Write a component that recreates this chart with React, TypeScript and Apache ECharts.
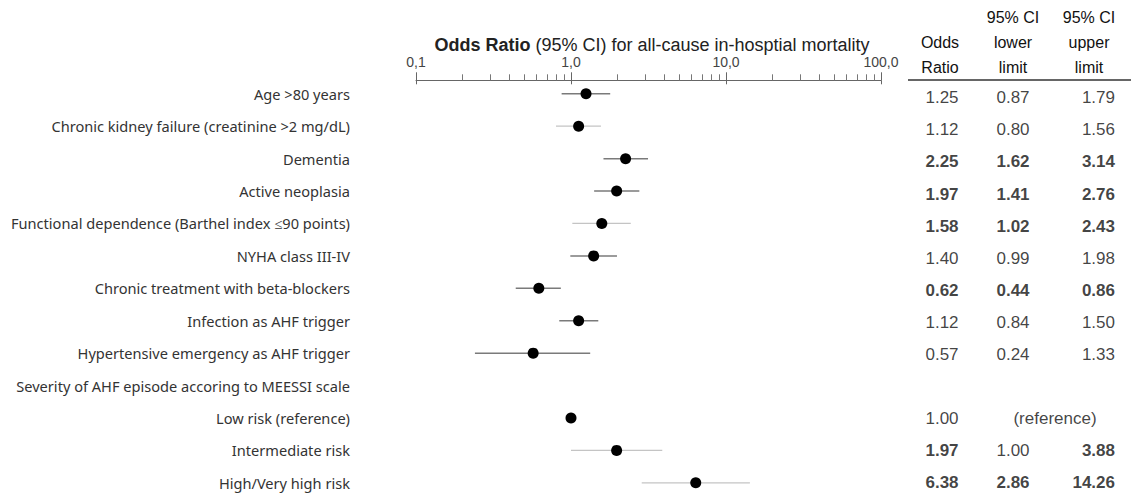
import React, { useEffect, useRef } from "react";
import * as echarts from "echarts";

const labels = [
  "Age >80 years",
  "Chronic kidney failure (creatinine >2 mg/dL)",
  "Dementia",
  "Active neoplasia",
  "Functional dependence (Barthel index ≤90 points)",
  "NYHA class III-IV",
  "Chronic treatment with beta-blockers",
  "Infection as AHF trigger",
  "Hypertensive emergency as AHF trigger",
  "Severity of AHF episode accoring to MEESSI scale",
  "Low risk (reference)",
  "Intermediate risk",
  "High/Very high risk",
];
const oddsRatio: (number | null)[] = [1.25, 1.12, 2.25, 1.97, 1.58, 1.4, 0.62, 1.12, 0.57, null, 1.0, 1.97, 6.38];
const ciLower: (number | null)[] = [0.87, 0.8, 1.62, 1.41, 1.02, 0.99, 0.44, 0.84, 0.24, null, null, 1.0, 2.86];
const ciUpper: (number | null)[] = [1.79, 1.56, 3.14, 2.76, 2.43, 1.98, 0.86, 1.5, 1.33, null, null, 3.88, 14.26];
const significant = [false, false, true, true, true, false, true, false, false, false, false, true, true];
const referenceRow = 10;
const referenceText = "(reference)";

const majorTicks = [0.1, 1, 10, 100];
const majorTickLabels = ["0,1", "1,0", "10,0", "100,0"];
const minorTicks = [
  0.2, 0.3, 0.4, 0.5, 0.6, 0.7, 0.8, 0.9,
  2, 3, 4, 5, 6, 7, 8, 9,
  20, 30, 40, 50, 60, 70, 80, 90,
];

const headerRow1 = ["", "95% CI", "95% CI"];
const headerRow2 = ["Odds", "lower", "upper"];
const headerRow3 = ["Ratio", "limit", "limit"];

// layout constants
const colX = [942, 1013, 1115];
const colAlign = ["center", "center", "right"];
const headerX = [940, 1013, 1089];
const lightRows = [1, 4, 11, 12];
const normalCells: [number, number][] = [[11, 1]];

const tableFont = "Liberation Sans";

function buildTable() {
  const items: any[] = [];
  oddsRatio.forEach((or, i) => {
    if (or == null) return;
    const vals = [or, ciLower[i], ciUpper[i]];
    if (i === referenceRow) {
      items.push({
        value: [colX[0], i],
        label: { formatter: or.toFixed(2), align: "center", fontWeight: "normal" },
      });
      items.push({
        value: [(colX[1] + colX[2]) / 2 - 9, i],
        label: { formatter: referenceText, align: "center", fontWeight: "normal" },
      });
      return;
    }
    vals.forEach((v, c) => {
      if (v == null) return;
      const normal = normalCells.some(([r, cc]) => r === i && cc === c);
      items.push({
        value: [colX[c], i],
        label: {
          formatter: v.toFixed(2),
          align: colAlign[c],
          fontWeight: significant[i] && !normal ? "bold" : "normal",
        },
      });
    });
  });
  return items;
}

export default function App() {
  const ref = useRef<HTMLDivElement>(null);
  useEffect(() => {
    const chart = echarts.init(ref.current!, null, { renderer: "svg" });
    const ciData = oddsRatio
      .map((or, i) => (ciLower[i] != null && ciUpper[i] != null ? [ciLower[i], ciUpper[i], i] : null))
      .filter((d) => d != null);
    const pointData = oddsRatio.map((or, i) => (or == null ? null : [or, i])).filter((d) => d != null);

    const headerGraphics: any[] = [];
    [headerRow1, headerRow2, headerRow3].forEach((row, r) => {
      row.forEach((t, c) => {
        if (!t) return;
        headerGraphics.push({
          type: "text",
          x: headerX[c],
          y: [17, 42, 67][r],
          style: {
            text: t,
            fontFamily: tableFont,
            fontSize: 16,
            fill: "#111",
            textAlign: "center",
            textVerticalAlign: "middle",
          },
        });
      });
    });

    const option: any = {
      animation: false,
      backgroundColor: "#fff",
      grid: [
        { left: 416, right: 250, top: 77.6, bottom: -4.4 },
        { left: 900, right: 0, top: 81.7, bottom: -7.3 },
      ],
      xAxis: [
        {
          type: "log",
          logBase: 10,
          min: 0.1,
          max: 100,
          position: "top",
          offset: -2.7,
          gridIndex: 0,
          axisLine: { show: true, lineStyle: { color: "#666", width: 1 } },
          axisTick: { show: true, length: 8, customValues: majorTicks, lineStyle: { color: "#666" } },
          axisLabel: {
            show: true,
            customValues: majorTicks,
            margin: 11,
            fontFamily: tableFont,
            fontSize: 14,
            color: "#444",
            formatter: (v: number) => {
              const idx = majorTicks.findIndex((m) => Math.abs(m - v) < 1e-9 * Math.max(1, m));
              return idx >= 0 ? majorTickLabels[idx] : "";
            },
          },
          splitLine: { show: false },
        },
        {
          type: "log",
          logBase: 10,
          min: 0.1,
          max: 100,
          position: "top",
          offset: -2.7,
          gridIndex: 0,
          axisLine: { show: false },
          axisTick: { show: true, length: 6, customValues: minorTicks, lineStyle: { color: "#777" } },
          axisLabel: { show: false },
          splitLine: { show: false },
        },
        {
          type: "log",
          logBase: 10,
          min: 0.1,
          max: 100,
          position: "top",
          offset: -2.7,
          gridIndex: 0,
          axisLine: { show: false },
          axisTick: { show: true, inside: true, length: 4, customValues: majorTicks, lineStyle: { color: "#666" } },
          axisLabel: { show: false },
          splitLine: { show: false },
        },
        {
          type: "value",
          gridIndex: 1,
          min: 900,
          max: 1131,
          show: false,
        },
      ],
      yAxis: [
        {
          type: "category",
          gridIndex: 0,
          inverse: true,
          data: labels,
          axisLine: { show: false },
          axisTick: { show: false },
          axisLabel: {
            margin: 66,
            fontFamily: "Noto Sans",
            fontSize: 14.6,
            color: "#333",
          },
          splitLine: { show: false },
        },
        {
          type: "category",
          gridIndex: 1,
          inverse: true,
          data: labels,
          show: false,
        },
      ],
      graphic: [
        {
          type: "text",
          x: 652,
          y: 45,
          style: {
            text: "{b|Odds Ratio} (95% CI) for all-cause in-hosptial mortality",
            fontFamily: tableFont,
            fontSize: 18,
            fill: "#222",
            textAlign: "center",
            textVerticalAlign: "middle",
            rich: {
              b: { fontFamily: tableFont, fontSize: 18, fontWeight: "bold", fill: "#222" },
            },
          },
        },
        ...headerGraphics,
        {
          type: "line",
          shape: { x1: 908, y1: 80, x2: 1131, y2: 80 },
          style: { stroke: "#333", lineWidth: 1.5 },
        },
      ],
      series: [
        {
          type: "custom",
          xAxisIndex: 0,
          yAxisIndex: 0,
          encode: { x: [0, 1], y: 2 },
          data: ciData,
          renderItem: (params: any, api: any) => {
            const row = api.value(2);
            const p1 = api.coord([api.value(0), row]);
            const p2 = api.coord([api.value(1), row]);
            const light = lightRows.includes(row);
            return {
              type: "line",
              shape: { x1: p1[0], y1: p1[1], x2: p2[0], y2: p2[1] },
              style: { stroke: light ? "#c4c4c4" : "#7a7a7a", lineWidth: light ? 1.2 : 1.5 },
            };
          },
          z: 2,
        },
        {
          type: "scatter",
          xAxisIndex: 0,
          yAxisIndex: 0,
          data: pointData,
          symbol: "circle",
          symbolSize: 11,
          itemStyle: { color: "#000", opacity: 1 },
          z: 3,
        },
        {
          type: "scatter",
          xAxisIndex: 3,
          yAxisIndex: 1,
          data: buildTable(),
          symbolSize: 0,
          silent: true,
          label: {
            show: true,
            position: "inside",
            fontFamily: tableFont,
            fontSize: 17,
            color: "#111",
            verticalAlign: "middle",
          },
        },
      ],
    };
    chart.setOption(option);
    return () => chart.dispose();
  }, []);
  return <div ref={ref} style={{ position: "fixed", left: 0, top: 0, width: 1131, height: 499 }} />;
}
